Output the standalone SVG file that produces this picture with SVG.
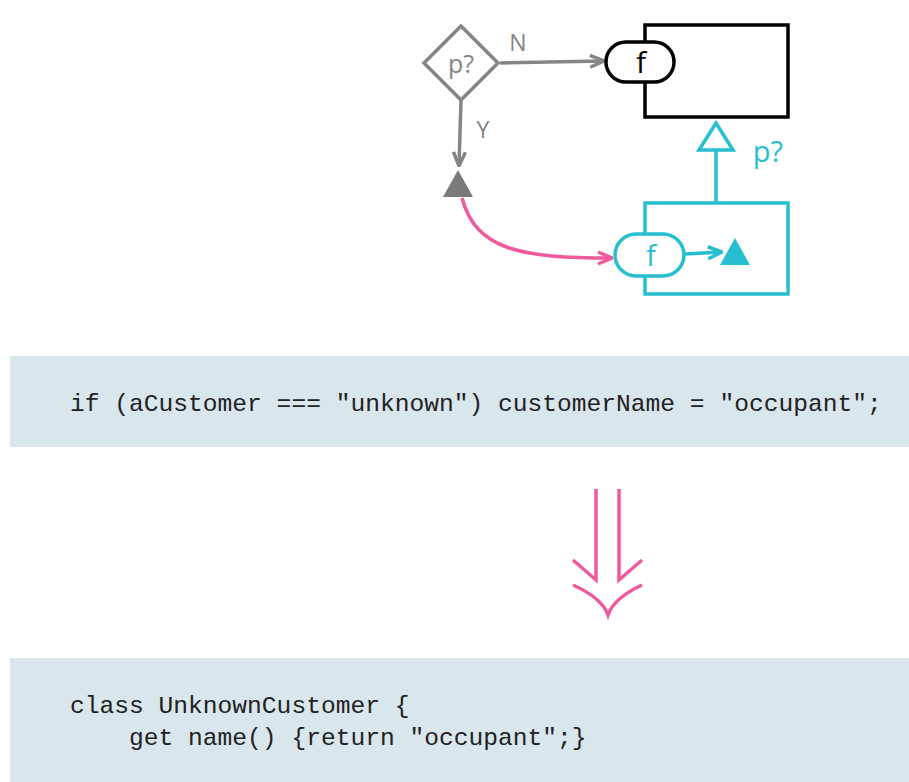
<svg xmlns="http://www.w3.org/2000/svg" width="909" height="782" viewBox="0 0 909 782">
<style>
.gray{stroke:#858585;fill:none;stroke-width:3.5}
.cyan{stroke:#27bfcf;fill:none;stroke-width:3.5}
.pink{stroke:#ee5a9c;fill:none;stroke-width:3.5}
.code{font-family:"Liberation Mono",monospace;font-size:24.6px;fill:#222}
.lbl{font-family:"Open Sans","DejaVu Sans",sans-serif}
</style>
<defs>
<marker id="ag" viewBox="0 0 16 16" refX="15" refY="8" markerWidth="16" markerHeight="16" markerUnits="userSpaceOnUse" orient="auto"><path d="M1 2 L15 8 L1 14" fill="none" stroke="#858585" stroke-width="3.5"/></marker>
<marker id="ac" viewBox="0 0 16 16" refX="15" refY="8" markerWidth="16" markerHeight="16" markerUnits="userSpaceOnUse" orient="auto"><path d="M1 2 L15 8 L1 14" fill="none" stroke="#27bfcf" stroke-width="3.5"/></marker>
<marker id="ap" viewBox="0 0 16 16" refX="15" refY="8" markerWidth="16" markerHeight="16" markerUnits="userSpaceOnUse" orient="auto"><path d="M1 2 L15 8 L1 14" fill="none" stroke="#ee5a9c" stroke-width="3.5"/></marker>
</defs>
<rect width="909" height="782" fill="#fff"/>
<g id="connectors">
<path class="gray" d="M500 63 L604 61" marker-end="url(#ag)"/>
<path class="gray" d="M461 100 L459 166" marker-end="url(#ag)"/>
<path class="pink" d="M462 198 C476 250 520 258 612 258" marker-end="url(#ap)"/>
<path class="cyan" d="M685 254 L722 252" marker-end="url(#ac)"/>
<path class="cyan" d="M716 203 L716 150"/>
<path d="M716 123 L733 150 L699 150 Z" fill="#fff" stroke="#27bfcf" stroke-width="3.5"/>
</g>
<g id="decision">
<path class="gray" d="M461 26 L498 63 L461 100 L424 63 Z"/>
<text class="lbl" x="461" y="73" font-size="25" fill="#858585" text-anchor="middle">p?</text>
</g>
<text class="lbl" x="518" y="51" font-size="23" fill="#858585" text-anchor="middle">N</text>
<text class="lbl" x="483" y="138" font-size="23" fill="#858585" text-anchor="middle">Y</text>
<g id="gray-triangle"><path d="M458 170 L473 197 L443 197 Z" fill="#7a7a7a"/></g>
<g id="black-box">
<rect x="645" y="25" width="143" height="92" fill="none" stroke="#000" stroke-width="3.5"/>
<rect x="606" y="42" width="68" height="40" rx="20" fill="#fff" stroke="#000" stroke-width="3.5"/>
<text class="lbl" x="641" y="73" font-size="30" fill="#000" text-anchor="middle">f</text>
</g>
<g id="cyan-box">
<rect x="645" y="203" width="143" height="91" fill="none" stroke="#27bfcf" stroke-width="3.5"/>
<rect x="615" y="234" width="69" height="42" rx="21" fill="#fff" stroke="#27bfcf" stroke-width="3.5"/>
<text class="lbl" x="651" y="266" font-size="30" fill="#27bfcf" text-anchor="middle">f</text>
<path d="M735 238 L750 265 L720 265 Z" fill="#27bfcf"/>
</g>
<text class="lbl" x="768" y="162" font-size="29" fill="#27bfcf" text-anchor="middle">p?</text>
<g id="code-before">
<rect x="10" y="356" width="899" height="91" fill="#d9e6ec"/>
<text class="code" x="70" y="411">if (aCustomer === "unknown") customerName = "occupant";</text>
</g>
<g id="transform-arrow">
<path class="pink" d="M596 489 L596 580 L573 560"/>
<path class="pink" d="M619 489 L619 580 L642 560"/>
<path class="pink" d="M573 585 Q602 598 608 615 Q614 598 642 585"/>
</g>
<g id="code-after">
<rect x="10" y="658" width="899" height="124" fill="#d9e6ec"/>
<text class="code" x="70" y="713">class UnknownCustomer {</text>
<text class="code" x="70" y="745" xml:space="preserve">    get name() {return "occupant";}</text>
</g>
</svg>
